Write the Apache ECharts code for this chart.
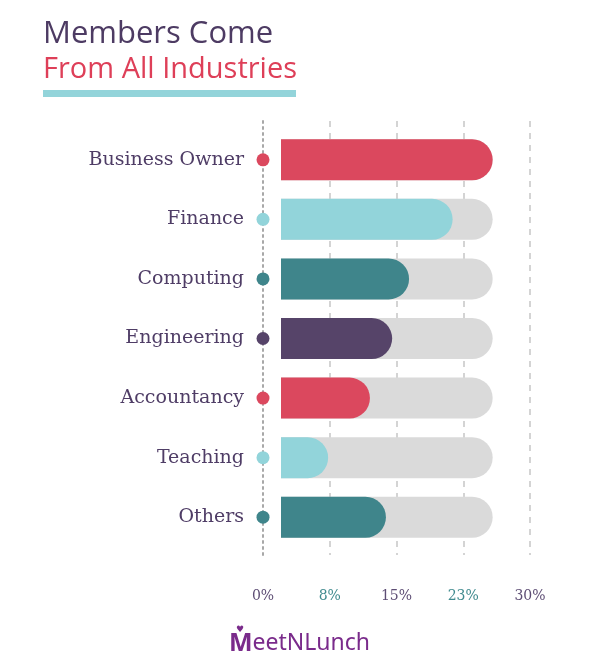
<!DOCTYPE html>
<html>
<head>
<meta charset="utf-8">
<script src="https://cdn.jsdelivr.net/npm/echarts@6/dist/echarts.min.js"></script>
<style>
html, body { margin: 0; padding: 0; background: #fff; }
#chart { width: 600px; height: 665px; }
</style>
</head>
<body>
<div id="chart"></div>
<script>
// industries, top to bottom
var industries = ['Business Owner', 'Finance', 'Computing', 'Engineering', 'Accountancy', 'Teaching', 'Others'];
// share of members (%), read against the 0-30% scale
var shares = [25.8, 21.3, 16.4, 14.5, 12.0, 7.3, 13.8];
// the grey track behind each bar
var trackMax = 25.8;
var tickValues = [0, 7.5, 15, 22.5, 30];

var purple = '#564469';
var red = '#db485e';
var lightTeal = '#92d4da';
var teal = '#3f858b';
var barColors = [red, lightTeal, teal, purple, red, lightTeal, teal];

var chartDom = document.getElementById('chart');
var myChart = echarts.init(chartDom);
var option;

option = {
    backgroundColor: '#fff',
    animation: false,
    grid: [
        { left: 263, right: 70, top: 121, bottom: 110 },   // ticks + grid lines
        { left: 263, right: 70, top: 130, bottom: 118 },   // labels + dots
        { left: 281, right: 70, top: 130, bottom: 118 }    // bars
    ],
    xAxis: [
        {
            gridIndex: 0,
            type: 'value',
            min: 0,
            max: 30,
            interval: 7.5,
            axisLine: { show: false },
            axisTick: { show: false },
            axisLabel: {
                margin: 34,
                formatter: function (v) {
                    var idx = tickValues.indexOf(v);
                    var style = idx % 2 === 1 ? 't' : 'p';
                    return '{' + style + '|' + Math.round(v) + '%}';
                },
                rich: {
                    p: { color: '#5d4d74', fontFamily: 'DejaVu Serif', fontSize: 14 },
                    t: { color: '#3f8a8e', fontFamily: 'DejaVu Serif', fontSize: 14 }
                }
            },
            splitLine: {
                show: true,
                lineStyle: {
                    color: ['rgba(0,0,0,0)', '#d4d4d4', '#d4d4d4', '#d4d4d4', '#d4d4d4'],
                    type: [6, 6],
                    width: 2
                }
            }
        },
        { gridIndex: 1, type: 'value', min: 0, max: 30, show: false },
        { gridIndex: 2, type: 'value', min: 2, max: 30, show: false }
    ],
    yAxis: [
        {
            gridIndex: 0,
            type: 'value',
            min: 0,
            max: 1,
            axisLine: { show: true, lineStyle: { color: '#a8a8a8', type: [2, 4], width: 2 } },
            axisTick: { show: false },
            axisLabel: { show: false },
            splitLine: { show: false }
        },
        {
            gridIndex: 1,
            type: 'category',
            inverse: true,
            data: industries,
            axisLine: { show: false },
            axisTick: { show: false },
            splitLine: { show: false },
            axisLabel: {
                margin: 19,
                color: '#4f3d66',
                fontFamily: 'DejaVu Serif',
                fontSize: 19,
                padding: [0, 0, 5, 0]
            }
        },
        {
            gridIndex: 2,
            type: 'category',
            inverse: true,
            data: industries,
            show: false
        }
    ],
    series: [
        {
            name: 'track',
            type: 'bar',
            xAxisIndex: 2,
            yAxisIndex: 2,
            barWidth: 41,
            barGap: '-100%',
            silent: true,
            data: industries.map(function () { return trackMax; }),
            itemStyle: { color: '#dadada', borderRadius: [0, 21, 21, 0] }
        },
        {
            name: 'share',
            type: 'bar',
            xAxisIndex: 2,
            yAxisIndex: 2,
            barWidth: 41,
            barGap: '-100%',
            data: shares.map(function (v, i) {
                return { value: v, itemStyle: { color: barColors[i] } };
            }),
            itemStyle: { borderRadius: [0, 21, 21, 0] }
        },
        {
            name: 'dots',
            type: 'scatter',
            xAxisIndex: 1,
            yAxisIndex: 1,
            clip: false,
            symbolSize: 13,
            z: 5,
            data: industries.map(function (name, i) {
                return { value: [0, name], itemStyle: { color: barColors[i], opacity: 1 } };
            })
        }
    ],
    graphic: [
        {
            type: 'text', left: 43, top: 19,
            style: { text: 'Members Come', fill: '#4d3b63', font: '31px "Open Sans"' }
        },
        {
            type: 'text', left: 43, top: 55,
            style: { text: 'From All Industries', fill: '#de3f58', font: '29px "Open Sans"' }
        },
        {
            type: 'rect', shape: { x: 43, y: 90, width: 253, height: 7 },
            style: { fill: '#93d4da' }
        },
        {
            type: 'text', left: 229, top: 631,
            style: {
                text: '{m|M}eetNLunch',
                fill: '#7a2b8b',
                font: '23px "Noto Sans"',
                rich: {
                    m: { fontWeight: 'bold', fontSize: 25, fill: '#7a2b8b', fontFamily: 'Noto Sans' }
                }
            }
        },
        {
            type: 'text', left: 236, top: 625,
            style: { text: '\u2665', fill: '#7a2b8b', font: '9px "DejaVu Sans"' }
        }
    ]
};
option && myChart.setOption(option);
</script>
</body>
</html>
